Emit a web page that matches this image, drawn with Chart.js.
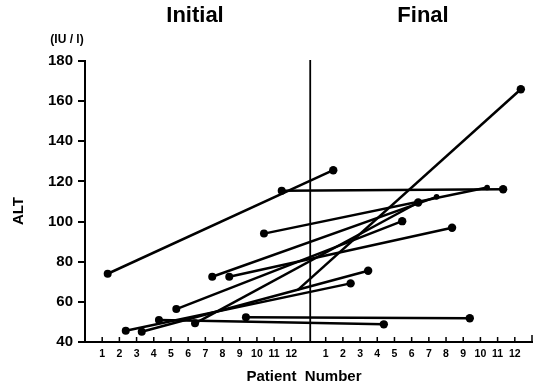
<!DOCTYPE html>
<html>
<head>
<meta charset="utf-8">
<script src="https://cdn.jsdelivr.net/npm/chart.js@4.4.0/dist/chart.umd.min.js"></script>
<style>
  html, body { margin: 0; padding: 0; background: #fff; }
  #wrap { width: 537px; height: 390px; }
</style>
</head>
<body>
<div id="wrap"><canvas id="chart"></canvas></div>
<script>
// patient positions on the x axis: 1-12 initial, 14-25 final (13 is the divider)
const initialPos = [1.32, 2.37, 3.30, 4.30, 5.31, 6.40, 7.40, 8.39, 9.36, 10.41, 11.44, 12.38];
const initialALT = [74, 45.6, 45.1, 51, 56.4, 49.3, 72.5, 72.5, 52.3, 94, 115.3, 66];
const finalPos = [14.44, 15.45, 16.47, 17.38, 18.45, 19.38, 20.45, 21.35, 22.38, 23.39, 24.32, 25.35];
const finalALT = [125.6, 69.2, 75.5, 48.8, 100.2, 109.5, 112.3, 96.9, 51.8, 117, 116.1, 165.9];
const tickValues = [1, 2, 3, 4, 5, 6, 7, 8, 9, 10, 11, 12, 14, 15, 16, 17, 18, 19, 20, 21, 22, 23, 24, 25];
const dividerPos = 13.1;

const bold = "'Liberation Sans', Arial, sans-serif";

// one line per patient, initial -> final
const datasets = initialPos.map((p, i) => ({
  data: [{ x: p, y: initialALT[i] }, { x: finalPos[i], y: finalALT[i] }],
  showLine: true,
  borderColor: '#000',
  borderWidth: 2.5,
  pointBackgroundColor: '#000',
  pointBorderColor: '#000',
  pointRadius: [i === 11 ? 0 : 4, (i === 6 || i === 9) ? 2.8 : 4.2],
  pointBorderWidth: 0
}));

// texts, divider and inward ticks
const extras = {
  id: 'extras',
  afterDraw(chart) {
    const ctx = chart.ctx;
    const x = chart.scales.x, y = chart.scales.y;
    const top = chart.chartArea.top, bottom = chart.chartArea.bottom;
    ctx.save();
    ctx.strokeStyle = '#000';
    ctx.fillStyle = '#000';

    // divider between initial and final
    ctx.lineWidth = 1.8;
    const dx = x.getPixelForValue(dividerPos);
    ctx.beginPath();
    ctx.moveTo(dx, top - 1);
    ctx.lineTo(dx, bottom);
    ctx.stroke();

    // x axis ticks pointing up, axis stub to the left, end tick
    ctx.lineWidth = 1.5;
    ctx.beginPath();
    tickValues.forEach(v => {
      const px = x.getPixelForValue(v);
      ctx.moveTo(px, bottom);
      ctx.lineTo(px, bottom - 5);
    });
    ctx.moveTo(chart.chartArea.right, bottom);
    ctx.lineTo(chart.chartArea.right, bottom - 7);
    ctx.stroke();
    ctx.lineWidth = 2;
    ctx.beginPath();
    ctx.moveTo(78, y.getPixelForValue(40));
    ctx.lineTo(chart.chartArea.left, y.getPixelForValue(40));
    ctx.stroke();

    ctx.textAlign = 'center';
    ctx.textBaseline = 'middle';
    ctx.font = 'bold 22px ' + bold;
    ctx.fillText('Initial', 195, 16);
    ctx.fillText('Final', 423, 16);
    ctx.font = 'bold 12px ' + bold;
    ctx.fillText('(IU / l)', 67, 40);
    ctx.font = 'bold 15px ' + bold;
    ctx.fillText('Patient  Number', 304, 377);

    ctx.translate(19, 211);
    ctx.rotate(-Math.PI / 2);
    ctx.font = 'bold 15px ' + bold;
    ctx.fillText('ALT', 0, 0);
    ctx.restore();
  }
};

const ctx = document.getElementById('chart').getContext('2d');

new Chart(ctx, {
  type: 'scatter',
  data: { datasets: datasets },
  options: {
    responsive: true,
    maintainAspectRatio: false,
    animation: false,
    layout: { padding: { top: 61, right: 5, left: 0, bottom: 0 } },
    plugins: { legend: { display: false }, tooltip: { enabled: false } },
    scales: {
      x: {
        type: 'linear',
        min: 0,
        max: 26,
        afterFit(scale) { scale.height = 48; },
        afterBuildTicks(scale) { scale.ticks = tickValues.map(v => ({ value: v })); },
        grid: { display: false, drawTicks: false },
        border: { display: true, color: '#000', width: 2 },
        ticks: {
          autoSkip: false,
          maxRotation: 0,
          padding: 6,
          color: '#000',
          font: { family: bold, size: 10.5, weight: 'bold' },
          callback: v => (v > 13 ? v - 13 : v)
        }
      },
      y: {
        min: 40,
        max: 180,
        afterFit(scale) { scale.width = 85; },
        grid: { drawOnChartArea: false, drawTicks: true, tickLength: 7, color: '#000', lineWidth: 2 },
        border: { display: true, color: '#000', width: 2 },
        ticks: {
          stepSize: 20,
          padding: 5,
          color: '#000',
          font: { family: bold, size: 15, weight: 'bold' }
        }
      }
    }
  },
  plugins: [extras]
});
</script>
</body>
</html>
